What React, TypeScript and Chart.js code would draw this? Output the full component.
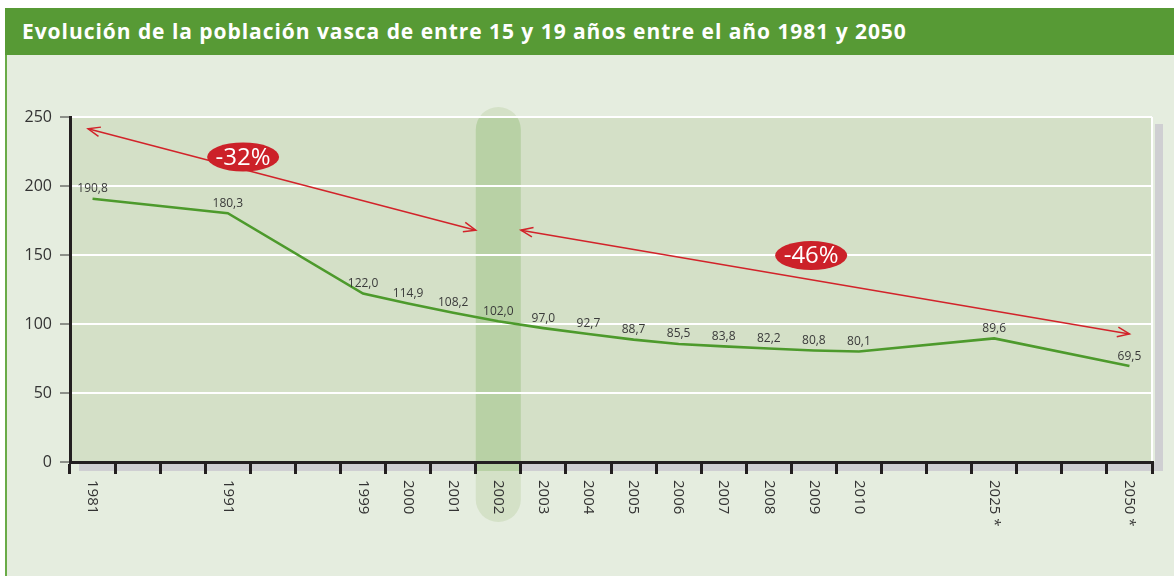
import React, { useEffect, useRef } from 'react';
import { Chart, registerables } from 'chart.js';

Chart.register(...registerables);

const TITLE = 'Evolución de la población vasca de entre 15 y 19 años entre el año 1981 y 2050';

const categories = ['1981', '', '', '1991', '', '', '1999', '2000', '2001', '2002', '2003', '2004', '2005', '2006', '2007', '2008', '2009', '2010', '', '', '2025 *', '', '', '2050 *'];
const values: (number | null)[] = [190.8, null, null, 180.3, null, null, 122.0, 114.9, 108.2, 102.0, 97.0, 92.7, 88.7, 85.5, 83.8, 82.2, 80.8, 80.1, null, null, 89.6, null, null, 69.5];
const yTicks = [0, 50, 100, 150, 200, 250];
const highlightIndex = 9;

// annotations in data units: [category index, value]
const changeArrows = [
  { from: [-0.1, 241.5], to: [8.5, 168] },
  { from: [9.5, 168], to: [23, 92.8] },
];
const changeLabels = [
  { text: '-32%', at: [3.34, 221] },
  { text: '-46%', at: [15.94, 149.6] },
];

const FONT = '"Open Sans", "Noto Sans", sans-serif';

function arrowHead(ctx: CanvasRenderingContext2D, tx: number, ty: number, fx: number, fy: number) {
  const ang = Math.atan2(ty - fy, tx - fx);
  const len = 13;
  const spread = 0.38;
  ctx.beginPath();
  ctx.moveTo(tx - len * Math.cos(ang - spread), ty - len * Math.sin(ang - spread));
  ctx.lineTo(tx, ty);
  ctx.lineTo(tx - len * Math.cos(ang + spread), ty - len * Math.sin(ang + spread));
  ctx.stroke();
}

const decor = {
  id: 'decor',
  beforeDraw(chart: any) {
    const { ctx, chartArea: a, scales } = chart;
    const x = scales.x;
    ctx.save();
    ctx.fillStyle = '#cfcfd2';
    ctx.fillRect(a.left + 9, a.bottom, a.right + 11 - (a.left + 9), 9);
    ctx.fillRect(a.right + 3, a.top + 7, 8, a.bottom + 9 - (a.top + 7));
    ctx.fillStyle = '#d4e0c7';
    ctx.fillRect(a.left, a.top, a.right - a.left, a.bottom - a.top);
    const x0 = x.getPixelForValue(highlightIndex - 0.5);
    const x1 = x.getPixelForValue(highlightIndex + 0.5);
    const top = a.top - 10;
    const bot = a.bottom + 60;
    const r = (x1 - x0) / 2;
    const path = () => {
      ctx.beginPath();
      ctx.roundRect(x0, top, x1 - x0, bot - top, r);
    };
    path();
    ctx.fillStyle = '#d4e1c7';
    ctx.fill();
    ctx.save();
    ctx.beginPath();
    ctx.rect(x0 - 1, a.top, x1 - x0 + 2, a.bottom + 9 - a.top);
    ctx.clip();
    path();
    ctx.fillStyle = '#b8d1a5';
    ctx.fill();
    ctx.restore();
    ctx.strokeStyle = '#ffffff';
    ctx.lineWidth = 2;
    ctx.beginPath();
    ctx.moveTo(a.right, a.top);
    ctx.lineTo(a.right, a.bottom);
    ctx.stroke();
    ctx.restore();
  },
  afterDatasetsDraw(chart: any) {
    const { ctx, chartArea: a, scales } = chart;
    const x = scales.x;
    const y = scales.y;
    ctx.save();
    // value labels
    const meta = chart.getDatasetMeta(0);
    ctx.font = `12px ${FONT}`;
    ctx.fillStyle = '#3a3a3a';
    ctx.textAlign = 'center';
    ctx.textBaseline = 'middle';
    values.forEach((v, i) => {
      if (v == null) return;
      const p = meta.data[i];
      ctx.fillText(v.toFixed(1).replace('.', ','), p.x, p.y - 10);
    });
    // x labels, rotated clockwise
    ctx.font = `15px ${FONT}`;
    ctx.fillStyle = '#333333';
    ctx.textAlign = 'left';
    categories.forEach((c, i) => {
      if (!c) return;
      ctx.save();
      ctx.translate(x.getPixelForValue(i), a.bottom + 18);
      ctx.rotate(Math.PI / 2);
      ctx.fillText(c, 0, 0);
      ctx.restore();
    });
    // arrows
    ctx.strokeStyle = '#d2232a';
    ctx.lineWidth = 1.5;
    changeArrows.forEach((ar) => {
      const fx = x.getPixelForValue(ar.from[0]);
      const fy = y.getPixelForValue(ar.from[1]);
      const tx = x.getPixelForValue(ar.to[0]);
      const ty = y.getPixelForValue(ar.to[1]);
      ctx.beginPath();
      ctx.moveTo(fx, fy);
      ctx.lineTo(tx, ty);
      ctx.stroke();
      arrowHead(ctx, tx, ty, fx, fy);
      arrowHead(ctx, fx, fy, tx, ty);
    });
    // change labels
    changeLabels.forEach((l) => {
      const cx = x.getPixelForValue(l.at[0]);
      const cy = y.getPixelForValue(l.at[1]);
      ctx.beginPath();
      ctx.ellipse(cx, cy, 36, 14.5, 0, 0, Math.PI * 2);
      ctx.fillStyle = '#cc2129';
      ctx.fill();
      ctx.font = `24px ${FONT}`;
      ctx.fillStyle = '#ffffff';
      ctx.textAlign = 'center';
      ctx.textBaseline = 'middle';
      ctx.fillText(l.text, cx, cy + 1);
    });
    ctx.restore();
  },
};

export default function App() {
  const ref = useRef<HTMLCanvasElement | null>(null);
  useEffect(() => {
    if (!ref.current) return;
    const chart = new Chart(ref.current, {
      type: 'line',
      data: {
        labels: categories,
        datasets: [
          {
            data: values,
            borderColor: '#4d9a2c',
            borderWidth: 2.6,
            pointRadius: 0,
            spanGaps: true,
            tension: 0,
            fill: false,
          },
        ],
      },
      options: {
        responsive: false,
        animation: false,
        devicePixelRatio: 1,
        layout: { padding: { top: 117, right: 22, left: 0, bottom: 0 } },
        plugins: { legend: { display: false }, tooltip: { enabled: false }, title: { display: false } },
        scales: {
          x: {
            type: 'category',
            offset: true,
            grid: {
              offset: true,
              drawOnChartArea: false,
              drawTicks: true,
              tickLength: 12,
              tickWidth: 3,
              tickColor: '#231f20',
              color: '#231f20',
              lineWidth: 3,
            },
            border: { display: true, color: '#231f20', width: 3 },
            ticks: { display: false },
            afterFit: (s: any) => {
              s.height = 114;
            },
          },
          y: {
            min: 0,
            max: 250,
            afterBuildTicks: (s: any) => {
              s.ticks = yTicks.map((v) => ({ value: v }));
            },
            grid: {
              color: '#ffffff',
              lineWidth: 2,
              tickColor: '#333333',
              tickWidth: 1,
              tickLength: 10,
            },
            border: { display: true, color: '#231f20', width: 3 },
            ticks: {
              color: '#333333',
              font: { family: FONT, size: 16 },
              padding: 8,
            },
            afterFit: (s: any) => {
              s.width = 70;
            },
          },
        },
      },
      plugins: [decor],
    } as any);
    return () => chart.destroy();
  }, []);

  return (
    <div style={{ position: 'absolute', left: 0, top: 0, width: 1174, height: 576, background: '#ffffff', overflow: 'hidden' }}>
      <div
        style={{
          position: 'absolute',
          left: 5,
          top: 8,
          width: 1169,
          height: 47,
          background: '#579a35',
          color: '#ffffff',
          fontFamily: FONT,
          fontWeight: 700,
          fontSize: 21,
          letterSpacing: '0.95px',
          lineHeight: '46px',
          paddingLeft: 17,
          boxSizing: 'border-box',
          whiteSpace: 'nowrap',
        }}
      >
        {TITLE}
      </div>
      <div
        style={{
          position: 'absolute',
          left: 5,
          top: 55,
          width: 1169,
          height: 521,
          background: '#e5eddf',
          borderLeft: '2px solid #6aab48',
          boxSizing: 'border-box',
        }}
      />
      <canvas ref={ref} width={1174} height={576} style={{ position: 'absolute', left: 0, top: 0, width: 1174, height: 576 }} />
    </div>
  );
}
